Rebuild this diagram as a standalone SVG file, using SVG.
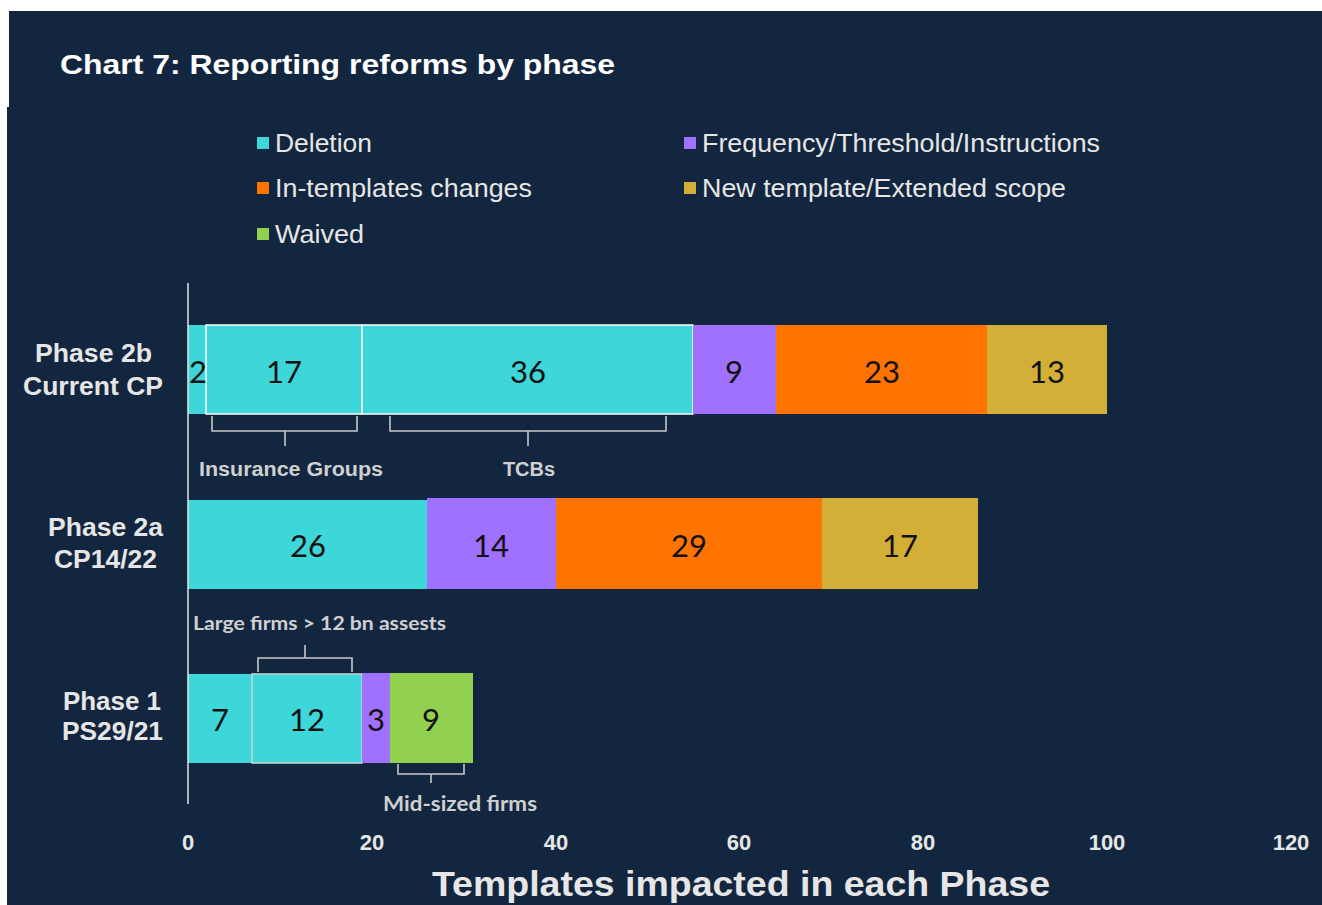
<svg xmlns="http://www.w3.org/2000/svg" width="1322" height="905" viewBox="0 0 1322 905">
<style>
.bg{fill:#13263f}
.cond{font-family:"Liberation Sans Narrow","Liberation Sans",Arial,sans-serif;fill:#e6e6e6}
.leg{font-size:26px}
.cat{font-size:25px;font-weight:bold;text-anchor:end}
.tick{font-size:22px;font-weight:bold;text-anchor:middle}
.num{font-family:"Lato","Noto Sans",sans-serif;font-size:31px;fill:#111;text-anchor:middle;dominant-baseline:central}
.ann{font-size:20px;font-weight:bold;fill:#d0d0d0}
.br{fill:none;stroke:#c8c8c8;stroke-width:1.6}
.c{fill:#3dd6d9}.p{fill:#a070ff}.o{fill:#ff7300}.g{fill:#d4af37}.w{fill:#92d050}
</style>
<rect width="1322" height="905" fill="#ffffff"/>
<rect class="bg" x="9" y="11" width="1313" height="97"/>
<rect class="bg" x="7" y="107" width="1315" height="798"/>
<text x="60" y="74" font-family="Liberation Sans,Arial,sans-serif" font-weight="bold" font-size="28" fill="#ffffff" textLength="555" lengthAdjust="spacingAndGlyphs">Chart 7: Reporting reforms by phase</text>

<g id="legend">
<rect class="c" x="257" y="137" width="12" height="12"/>
<text class="cond leg" x="275" y="152" textLength="97" lengthAdjust="spacingAndGlyphs">Deletion</text>
<rect class="p" x="684" y="137" width="12" height="12"/>
<text class="cond leg" x="702" y="152" textLength="398" lengthAdjust="spacingAndGlyphs">Frequency/Threshold/Instructions</text>
<rect class="o" x="257" y="182" width="12" height="12"/>
<text class="cond leg" x="275" y="197" textLength="257" lengthAdjust="spacingAndGlyphs">In-templates changes</text>
<rect class="g" x="684" y="182" width="12" height="12"/>
<text class="cond leg" x="702" y="197" textLength="364" lengthAdjust="spacingAndGlyphs">New template/Extended scope</text>
<rect class="w" x="257" y="228" width="12" height="12"/>
<text class="cond leg" x="275" y="243" textLength="89" lengthAdjust="spacingAndGlyphs">Waived</text>
</g>

<g id="categories">
<text class="cond cat" x="152" y="362" textLength="117" lengthAdjust="spacingAndGlyphs">Phase 2b</text>
<text class="cond cat" x="163" y="395" textLength="140" lengthAdjust="spacingAndGlyphs">Current CP</text>
<text class="cond cat" x="163" y="536" textLength="115" lengthAdjust="spacingAndGlyphs">Phase 2a</text>
<text class="cond cat" x="157" y="568" textLength="103" lengthAdjust="spacingAndGlyphs">CP14/22</text>
<text class="cond cat" x="161" y="710" textLength="98" lengthAdjust="spacingAndGlyphs">Phase 1</text>
<text class="cond cat" x="163" y="740" textLength="101" lengthAdjust="spacingAndGlyphs">PS29/21</text>
</g>

<g id="bar-phase2b">
<rect class="c" x="188" y="325" width="18" height="89"/>
<rect class="c" x="206" y="325" width="156" height="89" stroke="#ffffff" stroke-width="1.5"/>
<rect class="c" x="362" y="325" width="331" height="89" stroke="#ffffff" stroke-width="1.5"/>
<rect class="p" x="693" y="325" width="83" height="89"/>
<rect class="o" x="776" y="325" width="211" height="89"/>
<rect class="g" x="987" y="325" width="120" height="89"/>
<text class="num" x="198" y="371">2</text>
<text class="num" x="284" y="371">17</text>
<text class="num" x="528" y="371">36</text>
<text class="num" x="734" y="371">9</text>
<text class="num" x="882" y="371">23</text>
<text class="num" x="1047" y="371">13</text>
</g>

<g id="bar-phase2a">
<rect class="c" x="188" y="500" width="239" height="89"/>
<rect class="p" x="427" y="498" width="129" height="91"/>
<rect class="o" x="556" y="498" width="266" height="91"/>
<rect class="g" x="822" y="498" width="156" height="91"/>
<text class="num" x="308" y="545">26</text>
<text class="num" x="491" y="545">14</text>
<text class="num" x="689" y="545">29</text>
<text class="num" x="900" y="545">17</text>
</g>

<g id="bar-phase1">
<rect class="c" x="188" y="674" width="64" height="89"/>
<rect class="c" x="252" y="674" width="110" height="89" stroke="#c8d8d8" stroke-width="1.5"/>
<rect class="p" x="362" y="673" width="28" height="90"/>
<rect class="w" x="390" y="673" width="83" height="90"/>
<text class="num" x="220" y="719">7</text>
<text class="num" x="307" y="719">12</text>
<text class="num" x="376" y="719">3</text>
<text class="num" x="431" y="719">9</text>
</g>

<g id="connectors">
<line x1="188" y1="283" x2="188" y2="804" stroke="#e6e6e6" stroke-width="1.5"/>
<path class="br" d="M212 416 V431 H357 V416 M285 431 V446"/>
<path class="br" d="M390 416 V431 H666 V416 M528 431 V446"/>
<path class="br" d="M258 672 V658 H352 V672 M305 658 V645"/>
<path class="br" d="M398 764 V774 H464 V764 M431 774 V783"/>
</g>

<g id="annotations">
<text class="cond ann" x="199" y="476" textLength="184" lengthAdjust="spacingAndGlyphs">Insurance Groups</text>
<text class="cond ann" x="529" y="476" text-anchor="middle">TCBs</text>
<text x="193" y="630" font-family="Lato,'Noto Sans',sans-serif" font-weight="bold" font-size="18" fill="#d0d0d0" textLength="253" lengthAdjust="spacingAndGlyphs">Large firms &gt; 12 bn assests</text>
<text x="383" y="811" font-family="Lato,'Noto Sans',sans-serif" font-weight="bold" font-size="20" fill="#d0d0d0" textLength="154" lengthAdjust="spacingAndGlyphs">Mid-sized firms</text>
</g>

<g id="axis">
<text class="cond tick" x="188" y="850">0</text>
<text class="cond tick" x="372" y="850">20</text>
<text class="cond tick" x="556" y="850">40</text>
<text class="cond tick" x="739" y="850">60</text>
<text class="cond tick" x="923" y="850">80</text>
<text class="cond tick" x="1107" y="850">100</text>
<text class="cond tick" x="1291" y="850">120</text>
<text class="cond" x="432" y="896" font-size="35" font-weight="bold" textLength="618" lengthAdjust="spacingAndGlyphs">Templates impacted in each Phase</text>
</g>
</svg>
